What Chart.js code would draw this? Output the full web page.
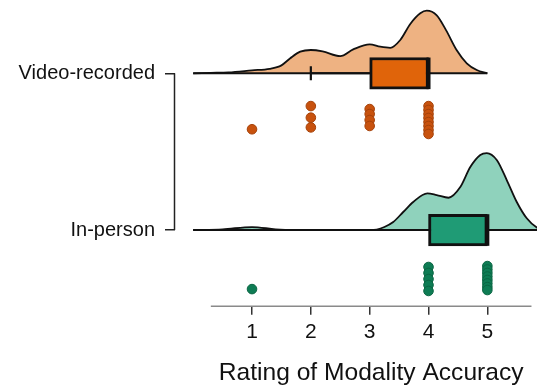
<!DOCTYPE html>
<html><head><meta charset="utf-8">
<script src="https://cdn.jsdelivr.net/npm/chart.js@4/dist/chart.umd.min.js"></script>
<style>html,body{margin:0;padding:0;background:#fff}#wrap{width:537px;height:385px;position:relative}</style>
</head><body><div id="wrap"><canvas id="c"></canvas></div>
<script>
// ---- data ----
const categories = ['Video-recorded', 'In-person'];
const rowPos = [2, 1];
const xTicks = [1, 2, 3, 4, 5];
const axisTitle = 'Rating of Modality Accuracy';

// half-violin density (height in row units above each row's baseline)
const videoDensX = [0.0, 0.3, 0.6, 1.0, 1.3, 1.5, 1.65, 1.82, 2.0, 2.2, 2.5, 2.72, 3.0, 3.18, 3.35, 3.52, 3.69, 3.86, 3.97, 4.14, 4.3, 4.48, 4.65, 4.82, 5.0];
const videoDensH = [0, 0.003, 0.006, 0.019, 0.029, 0.051, 0.096, 0.138, 0.149, 0.140, 0.110, 0.153, 0.185, 0.170, 0.163, 0.213, 0.315, 0.383, 0.400, 0.370, 0.274, 0.147, 0.064, 0.021, 0];
const personDensX = [0.0, 0.5, 1.0, 1.4, 1.7, 3.0, 3.12, 3.25, 3.4, 3.57, 3.74, 3.98, 4.14, 4.34, 4.54, 4.71, 4.88, 4.99, 5.16, 5.33, 5.5, 5.67, 5.84, 6.0];
const personDensH = [0, 0.0045, 0.019, 0.0045, 0, 0, 0.003, 0.019, 0.051, 0.115, 0.179, 0.234, 0.223, 0.206, 0.274, 0.402, 0.479, 0.491, 0.447, 0.319, 0.179, 0.075, 0.017, 0];

// boxplot statistics
const q1 = [3, 4];
const median = [4, 5];
const q3 = [4, 5];
const whiskerLo = [2, 4];
const whiskerHi = [4, 5];

// raw ratings with their vertical jitter (row units, below the baseline)
const videoPtsX   = [1, 2, 2, 2, 3, 3, 3, 3, 4, 4, 4, 4, 4, 4, 4, 4];
const videoPtsJit = [-0.357, -0.209, -0.283, -0.345, -0.228, -0.260, -0.298, -0.336, -0.209, -0.234, -0.260, -0.285, -0.311, -0.336, -0.362, -0.387];
const personPtsX   = [1, 4, 4, 4, 4, 4, 5, 5, 5, 5, 5, 5, 5, 5];
const personPtsJit = [-0.377, -0.236, -0.274, -0.313, -0.351, -0.389, -0.230, -0.252, -0.274, -0.297, -0.319, -0.341, -0.364, -0.383];

// ---- styles ----
const densFill = ['#EEB282', '#8FD2BC'];
const boxFill = ['#E0640A', '#1F9B75'];
const ptFill = ['#C8520E', '#0E7C54'];
const ptEdge = ['#A5420A', '#0A6542'];
const FONT = "'Liberation Sans', Arial, sans-serif";

const densX = [videoDensX, personDensX];
const densH = [videoDensH, personDensH];
const ptsX = [videoPtsX, personPtsX];
const ptsJ = [videoPtsJit, personPtsJit];

const datasets = [];
rowPos.forEach((r, i) => {
  datasets.push({
    type: 'line', order: 10,
    data: densX[i].map((x, k) => ({x: x, y: r + densH[i][k]})),
    borderColor: '#111', borderWidth: 1.8, backgroundColor: densFill[i],
    fill: {value: r}, pointRadius: 0, cubicInterpolationMode: 'monotone'
  });
  const dx = densX[i];
  datasets.push({
    type: 'line', order: 9,
    data: [{x: dx[0], y: r}, {x: dx[dx.length - 1], y: r}],
    borderColor: '#111', borderWidth: 2, pointRadius: 0, fill: false
  });
  if (whiskerLo[i] < q1[i]) {
    datasets.push({
      type: 'line', order: 8,
      data: [{x: whiskerLo[i], y: r}, {x: q1[i], y: r}],
      borderColor: '#111', borderWidth: 2, pointRadius: [7, 0], pointStyle: 'line',
      pointRotation: 90, pointBorderWidth: 2.2, pointBorderColor: '#111', fill: false
    });
  }
  if (whiskerHi[i] > q3[i]) {
    datasets.push({
      type: 'line', order: 8,
      data: [{x: q3[i], y: r}, {x: whiskerHi[i], y: r}],
      borderColor: '#111', borderWidth: 2, pointRadius: [0, 7], pointStyle: 'line',
      pointRotation: 90, pointBorderWidth: 2.2, pointBorderColor: '#111', fill: false
    });
  }
  datasets.push({
    type: 'scatter', order: 5,
    data: ptsX[i].map((x, k) => ({x: x, y: r + ptsJ[i][k]})),
    backgroundColor: ptFill[i], borderColor: ptEdge[i], borderWidth: 1, pointRadius: 4.8
  });
});
datasets.push({
  type: 'bar', order: 7, indexAxis: 'y', grouped: false,
  data: rowPos.map((r, i) => ({x: [q1[i], q3[i]], y: r})),
  backgroundColor: boxFill, borderColor: '#111', borderWidth: 3, borderSkipped: false,
  barThickness: 31.6
});
const boxIndex = datasets.length - 1;

const decor = {
  id: 'decor',
  afterDatasetsDraw(chart) {
    const {ctx, chartArea, scales: {x, y}} = chart;
    ctx.save();
    // x axis line
    const ax0 = x.getPixelForValue(0.3), ax1 = x.getPixelForValue(5.75);
    ctx.strokeStyle = '#8a8a8a'; ctx.lineWidth = 1.5;
    ctx.beginPath();
    ctx.moveTo(ax0, chartArea.bottom + 0.5);
    ctx.lineTo(ax1, chartArea.bottom + 0.5);
    ctx.stroke();
    // y bracket line
    ctx.strokeStyle = '#222'; ctx.lineWidth = 1.5;
    ctx.beginPath();
    ctx.moveTo(chartArea.left - 0.5, y.getPixelForValue(rowPos[0]));
    ctx.lineTo(chartArea.left - 0.5, y.getPixelForValue(rowPos[rowPos.length - 1]));
    ctx.stroke();
    // medians
    const meta = chart.getDatasetMeta(boxIndex);
    meta.data.forEach((el, i) => {
      const px = x.getPixelForValue(median[i]);
      ctx.strokeStyle = '#111'; ctx.lineWidth = 4;
      ctx.beginPath();
      ctx.moveTo(px, el.y - el.height / 2);
      ctx.lineTo(px, el.y + el.height / 2);
      ctx.stroke();
    });
    // x axis title, centred under the axis line
    ctx.fillStyle = '#111';
    ctx.font = '24.6px ' + FONT;
    ctx.textAlign = 'center';
    ctx.textBaseline = 'middle';
    ctx.fillText(axisTitle, (ax0 + ax1) / 2, x.bottom - 12);
    ctx.restore();
  }
};

Chart.defaults.font.family = FONT;
Chart.defaults.color = '#111';

new Chart(document.getElementById('c'), {
  type: 'scatter',
  data: {datasets},
  options: {
    responsive: true, maintainAspectRatio: false, animation: false,
    layout: {padding: 0, autoPadding: false},
    plugins: {legend: {display: false}, tooltip: {enabled: false}},
    scales: {
      x: {
        type: 'linear', min: -0.309, max: 5.844, offset: false, beginAtZero: false,
        afterBuildTicks: s => { s.ticks = xTicks.map(v => ({value: v})); },
        afterFit: s => { s.height = 79.3; s.paddingLeft = 0; s.paddingRight = 0; },
        grid: {drawOnChartArea: false, drawTicks: true, tickLength: 9, color: '#333', lineWidth: 1.5, offset: false},
        border: {display: false},
        ticks: {font: {size: 21}, color: '#111', padding: 5, maxRotation: 0},
        title: {display: false}
      },
      y: {
        type: 'linear', min: 0.517, max: 2.468, offset: false,
        afterBuildTicks: s => { s.ticks = rowPos.map(v => ({value: v})); },
        afterFit: s => { s.width = 175; s.paddingTop = 0; s.paddingBottom = 0; },
        grid: {drawOnChartArea: false, drawTicks: true, tickLength: 10, color: '#222', lineWidth: 1.5, offset: false},
        border: {display: false},
        ticks: {font: {size: 20}, color: '#111', padding: 10,
          callback: v => categories[rowPos.indexOf(v)]}
      }
    }
  },
  plugins: [decor]
});
</script>
</body></html>
